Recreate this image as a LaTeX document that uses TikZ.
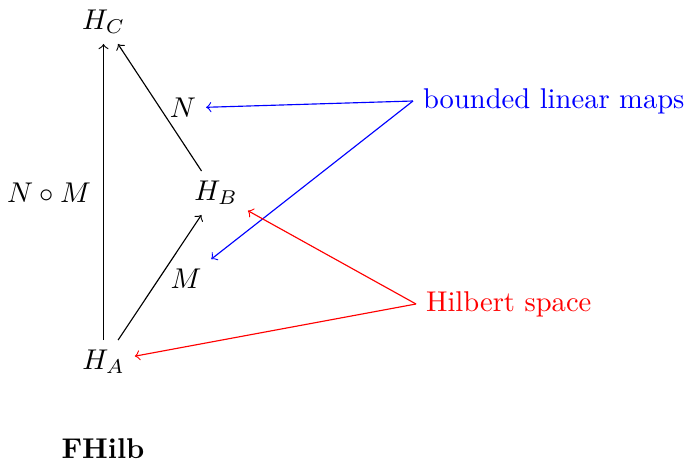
\documentclass[tikz,border=0pt]{standalone}
\begin{document}
\begin{tikzpicture}[x=0.35pt,y=-0.35pt,
  obj/.style={inner sep=3.33pt},
  blab/.style={text=blue,inner sep=3.33pt},
  rlab/.style={text=red,inner sep=3.33pt},
  blarr/.style={draw=blue,->},
  rdarr/.style={draw=red,->}]
\useasboundingbox (0,0) rectangle (694,460);
\node[obj] (HC) at (103.5,22) {$H_C$};
\node[obj] (HB) at (216,193) {$H_B$};
\node[obj] (HA) at (103.5,362) {$H_A$};
\node[obj] (N) at (183,108) {$N$};
\node[obj] (M) at (186,279) {$M$};
\node[obj] (NM) at (49,193) {$N\circ M$};
\node[blab,anchor=west] (blm) at (413,101) {bounded linear maps};
\node[rlab,anchor=west] (hs) at (416,304) {Hilbert space};
\node[obj] (F) at (103,449) {\textbf{FHilb}};
\draw[->] (HA) -- (HC);
\draw[->] (HA) -- (HB);
\draw[->] (HB) -- (HC);
\draw[blarr] (blm.west) -- (N);
\draw[blarr] (blm.west) -- (M);
\draw[rdarr] (hs.west) -- (HB);
\draw[rdarr] (hs.west) -- (HA);
\end{tikzpicture}
\end{document}
